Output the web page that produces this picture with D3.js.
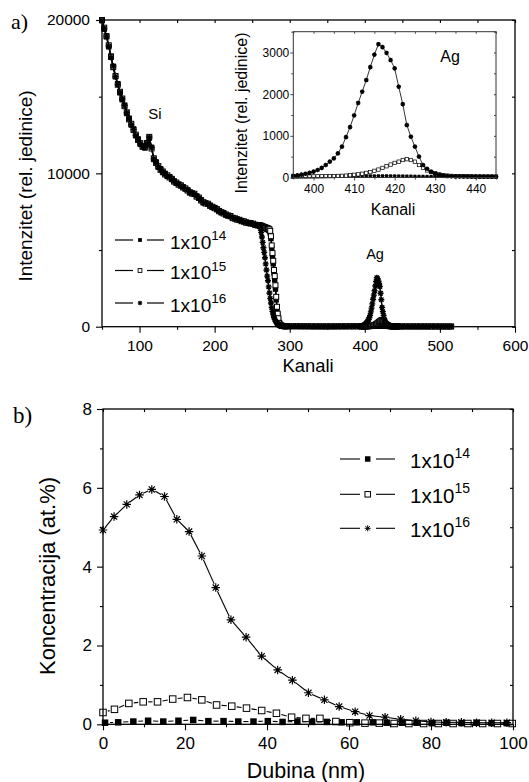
<!DOCTYPE html>
<html><head><meta charset="utf-8">
<script src="https://cdn.jsdelivr.net/npm/d3@7"></script>
<style>
body{margin:0;background:#fff}
svg{display:block}
text{fill:#000}
</style>
</head><body>
<svg id="c" width="529" height="782" font-family='"Liberation Sans", Arial, sans-serif'></svg>
<script>
// ---------- DATA: panel a) RBS spectra (channel, intensity) ----------
const chBulk = [50,53,56,59,62,65,68,71,74,77,80,83,86,89,92,95,98,101,104,107,110,113,116,119,122,125,128,131,134,137,140,143,146,149,152,155,158,161,164,167,170,173,176,179,182,185,188,191,194,197,200,203,206,209,212,215,218,221,224,227,230,233,236,239,242,245,248,251,254,257];
const chEdge = [260,261,262,263,264,265,266,267,268,269,270,271,272,273,274,275,276,277,278,279,280,281,282,283,284,285,286,287,288,289,290,291,292,293,294,295,296];
const chGap  = [300,305,310,315,320,325,330,335,340,345,350,355,360,365,370,375,380,385,390];
const chAg   = [395,396,397,398,399,400,401,402,403,404,405,406,407,408,409,410,411,412,413,414,415,416,417,418,419,420,421,422,423,424,425,426,427,428,429,430,431,432,433,434,435,436,437,438,439,440,441,442,443,444,445];
const chTail = [450,455,460,465,470,475,480,485,490,495,500,505,510,515];

const i14Bulk = [19950,19400,18900,18250,17650,16900,16300,15850,15250,14800,14450,13900,13600,13150,12900,12450,12250,11900,11800,11650,11900,12300,11700,10900,10750,10400,10300,10050,10000,9800,9780,9600,9500,9350,9300,9180,9120,8980,8920,8730,8720,8630,8520,8380,8270,8080,8070,7980,7920,7780,7770,7630,7570,7430,7420,7280,7270,7180,7120,7030,7020,6930,6920,6830,6820,6740,6770,6680,6670,6590];
const i15Bulk = [20000,19500,18950,18350,17600,16950,16350,15780,15320,14880,14380,13980,13520,13230,12830,12520,12180,11970,11730,11720,11980,12380,11620,10980,10680,10470,10230,10120,9930,9870,9730,9640,9460,9400,9260,9220,9080,9020,8880,8770,8680,8670,8480,8420,8230,8120,8030,8020,7880,7820,7730,7670,7530,7470,7380,7320,7230,7220,7080,7070,6980,6970,6880,6870,6780,6770,6730,6720,6640,6630];
const i16Bulk = [19980,19450,18950,18300,17550,17000,16300,15800,15280,14850,14420,13950,13560,13180,12850,12480,12200,11950,11760,11700,11950,12350,11680,10950,10720,10440,10260,10090,9960,9840,9760,9610,9490,9370,9290,9190,9110,8990,8910,8740,8710,8640,8510,8390,8260,8090,8060,7990,7910,7790,7760,7640,7560,7440,7410,7290,7260,7190,7110,7040,7010,6940,6910,6840,6810,6740,6760,6690,6660,6580];

const i14Edge = [6580,6560,6540,6520,6500,6480,6460,6430,6400,6380,6350,6330,6300,6250,6100,5750,5150,4600,4100,3500,3050,2450,1750,1150,750,450,220,130,90,65,50,45,40,35,32,30,30];
const i15Edge = [6620,6600,6580,6560,6540,6520,6500,6480,6460,6440,6420,6400,6380,6350,6250,5900,5300,4800,4300,3700,3300,2700,1950,1300,850,550,250,150,100,70,55,45,40,35,32,30,28];
const i16Edge = [6550,6400,6150,5850,5500,5150,4850,4500,4100,3700,3300,3000,2600,2200,1850,1550,1250,1000,800,620,480,380,300,220,160,120,90,70,55,45,40,35,32,30,30,28,28];

const i14Gap = [28,26,25,24,22,22,20,20,20,18,18,20,20,20,20,22,22,22,22];
const i15Gap = [28,27,26,24,23,22,21,20,20,19,19,20,20,20,21,22,22,22,24];
const i16Gap = [27,26,25,24,22,22,21,20,20,19,20,20,21,22,23,25,27,30,34];

const i14Ag = [20,20,22,22,25,25,25,28,28,30,30,30,32,32,35,35,35,38,38,40,40,40,42,42,40,40,38,38,35,35,32,30,30,28,28,25,25,22,22,22,20,20,20,20,18,18,18,18,18,18,18];
const i15Ag = [22,22,24,24,25,26,27,28,30,32,34,37,40,45,55,65,75,90,110,130,160,190,230,270,310,350,380,420,440,420,380,300,230,170,130,100,75,55,45,38,34,32,30,28,27,26,25,24,24,23,22];
const i16Ag = [40,50,70,90,110,140,180,230,300,380,460,580,740,970,1210,1490,1790,2060,2340,2650,2950,3200,3130,2990,2820,2620,2180,1760,1260,980,740,500,300,210,140,90,60,45,35,30,28,26,25,24,23,22,22,21,21,20,20];

const i14Tail = [18,18,17,17,16,16,16,15,15,15,15,14,14,14];
const i15Tail = [20,19,18,18,17,17,16,16,16,15,15,15,14,14];
const i16Tail = [19,18,18,17,17,16,16,16,15,15,15,14,14,14];

const seriesNames = ["14","15","16"];
const topXTicks = [100,200,300,400,500,600];
const topXMinor = [50,150,250,350,450,550];
const topYTicks = [0,10000,20000];
const topYMinor = [5000,15000];
const insetXTicks = [400,410,420,430,440];
const insetXMinor = [395,405,415,425,435,445];
const insetYTicks = [0,1000,2000,3000];
const insetYMinor = [500,1500,2500,3500];

// ---------- DATA: panel b) depth profiles ----------
const depth14 = [0.5,3.7,7.4,11.0,14.7,18.4,22.0,25.7,29.4,33.0,36.7,40.2,43.8,47.4,51.0,54.6,58.2,61.9,65.8,69.2,72.9,76.5,80.2,83.8,87.5,91.1,94.8,98.5];
const conc14  = [0.04,0.05,0.07,0.09,0.07,0.09,0.11,0.08,0.08,0.07,0.07,0.08,0.06,0.07,0.06,0.06,0.05,0.05,0.05,0.04,0.04,0.04,0.03,0.04,0.03,0.04,0.03,0.03];
const depth15 = [0,2.8,6.3,9.8,13.3,17.0,20.6,24.1,27.7,31.4,35.0,38.7,42.3,46.0,49.5,52.9,56.8,60.2,63.9,67.4,71.0,74.6,78.2,81.8,85.4,89.0,92.6,96.2,99.8];
const conc15  = [0.30,0.38,0.53,0.57,0.57,0.64,0.68,0.62,0.49,0.46,0.41,0.35,0.28,0.18,0.15,0.15,0.07,0.04,0.03,0.03,0.02,0.02,0.02,0.02,0.02,0.02,0.02,0.02,0.02];
const depth16 = [0,2.7,5.8,8.9,11.9,15.0,18.0,21.0,24.1,27.5,31.2,34.9,38.7,42.6,46.2,50.1,54.0,57.6,61.5,65.0,68.8,72.6,76.3,80.0,83.7,87.4,91.1,94.8,98.5];
const conc16  = [4.93,5.27,5.58,5.82,5.96,5.78,5.20,4.89,4.27,3.47,2.65,2.21,1.73,1.38,1.12,0.80,0.62,0.45,0.32,0.22,0.18,0.13,0.09,0.06,0.05,0.05,0.04,0.04,0.04];
const botXTicks = [0,20,40,60,80,100];
const botXMinor = [10,30,50,70,90];
const botYTicks = [0,2,4,6,8];
const botYMinor = [1,3,5,7];

// ---------- BUILD ----------
const SANS = '"Liberation Sans", Arial, sans-serif';
const SERIF = '"Liberation Serif", "Times New Roman", serif';
const svg = d3.select("#c");
const chAll = chBulk.concat(chEdge, chGap, chAg, chTail);
const zip = (xs, ys) => xs.map((v, i) => [v, ys[i]]).filter(d => d[1] !== undefined);
const spec = {
  "14": zip(chAll, i14Bulk.concat(i14Edge, i14Gap, i14Ag, i14Tail)),
  "15": zip(chAll, i15Bulk.concat(i15Edge, i15Gap, i15Ag, i15Tail)),
  "16": zip(chAll, i16Bulk.concat(i16Edge, i16Gap, i16Ag, i16Tail))
};
const markType = {"14": "fill", "15": "open", "16": "star"};

function marker(g, type, px, py, s, sw) {
  if (type === "fill") {
    g.append("rect").attr("x", px - s/2).attr("y", py - s/2).attr("width", s).attr("height", s).attr("fill", "#000");
  } else if (type === "open") {
    g.append("rect").attr("x", px - s/2).attr("y", py - s/2).attr("width", s).attr("height", s)
      .attr("fill", "#fff").attr("stroke", "#000").attr("stroke-width", sw);
  } else {
    const r = s/2, k = r*0.72;
    g.append("path").attr("d", `M${px},${py-r}V${py+r}M${px-r},${py}H${px+r}M${px-k},${py-k}L${px+k},${py+k}M${px-k},${py+k}L${px+k},${py-k}`)
      .attr("stroke", "#000").attr("stroke-width", sw).attr("fill", "none");
  }
}

function frame(g, x, y, o) {
  const [x0, x1] = x.range(), [y0, y1] = y.range();
  const style = sel => {
    sel.select(".domain").remove();
    sel.selectAll("line").attr("stroke", o.color).attr("stroke-width", o.tw);
    sel.attr("font-family", SANS).attr("font-size", o.fs);
  };
  g.append("g").attr("transform", `translate(0,${y0})`).call(d3.axisBottom(x).tickValues(o.xt).tickSize(o.maj).tickPadding(o.xpad).tickFormat(d3.format("d"))).call(style);
  g.append("g").attr("transform", `translate(0,${y0})`).call(d3.axisBottom(x).tickValues(o.xm).tickSize(o.min).tickFormat("")).call(style);
  g.append("g").attr("transform", `translate(${x0},0)`).call(d3.axisLeft(y).tickValues(o.yt).tickSize(o.maj).tickPadding(o.ypad).tickFormat(d3.format("d"))).call(style);
  g.append("g").attr("transform", `translate(${x0},0)`).call(d3.axisLeft(y).tickValues(o.ym).tickSize(o.min).tickFormat("")).call(style);
  g.append("g").attr("transform", `translate(0,${y1})`).call(d3.axisTop(x).tickValues(o.xt.concat(o.xm)).tickSize(-o.min).tickFormat("")).call(style);
  g.append("g").attr("transform", `translate(${x1},0)`).call(d3.axisRight(y).tickValues(o.yt.concat(o.ym)).tickSize(-o.min).tickFormat("")).call(style);
  g.append("rect").attr("x", x0).attr("y", y1).attr("width", x1 - x0).attr("height", y0 - y1)
    .attr("fill", "none").attr("stroke", o.color).attr("stroke-width", o.fw);
}

// ----- Panel a) -----
const xA = d3.scaleLinear([50, 600], [102, 515]);
const yA = d3.scaleLinear([0, 20000], [326.7, 20]);
const gA = svg.append("g");
const lineA = d3.line().x(d => xA(d[0])).y(d => yA(d[1]));
seriesNames.forEach(n => {
  const g = gA.append("g");
  g.append("path").attr("d", lineA(spec[n])).attr("fill", "none").attr("stroke", "#000").attr("stroke-width", 1.4);
  const s = n === "14" ? 5.4 : (n === "15" ? 5 : 6);
  spec[n].forEach(d => marker(g, markType[n], xA(d[0]), yA(d[1]), s, n === "16" ? 1.4 : 1));
});
frame(gA, xA, yA, {xt: topXTicks, xm: topXMinor, yt: topYTicks, ym: topYMinor, maj: 6, min: 3, xpad: 7, ypad: 6, fs: 15.5, color: "#000", tw: 1.1, fw: 1.3});

gA.append("text").attr("x", 308).attr("y", 372).attr("text-anchor", "middle").attr("font-size", 18.4).text("Kanali");
gA.append("text").attr("transform", "translate(32,186) rotate(-90)").attr("text-anchor", "middle").attr("font-size", 19).text("Intenzitet (rel. jedinice)");
gA.append("text").attr("x", 155).attr("y", 119).attr("text-anchor", "middle").attr("font-size", 15).text("Si");
gA.append("text").attr("x", 375).attr("y", 259).attr("text-anchor", "middle").attr("font-size", 14.5).text("Ag");
svg.append("text").attr("x", 11).attr("y", 29).attr("font-family", SERIF).attr("font-size", 22).text("a)");

// legend a)
const legA = [240, 270.5, 303];
seriesNames.forEach((n, i) => {
  const yy = legA[i];
  gA.append("line").attr("x1", 115).attr("x2", 133).attr("y1", yy).attr("y2", yy).attr("stroke", "#000").attr("stroke-width", 1.2);
  gA.append("line").attr("x1", 147).attr("x2", 164).attr("y1", yy).attr("y2", yy).attr("stroke", "#000").attr("stroke-width", 1.2);
  marker(gA, markType[n], 140, yy, n === "16" ? 4.5 : 3.8, n === "16" ? 1.1 : 0.9);
  const t = gA.append("text").attr("x", 170).attr("y", yy + 8.5).attr("font-size", 19);
  t.append("tspan").text("1x10");
  t.append("tspan").attr("dy", -8.5).attr("font-size", 13.5).text(n);
});

// ----- Inset -----
const xI = d3.scaleLinear([395, 445], [293.3, 496]);
const yI = d3.scaleLinear([0, 3500], [177.5, 31.7]);
const gI = svg.append("g");
gI.append("rect").attr("x", 293.3).attr("y", 31.7).attr("width", 496 - 293.3).attr("height", 177.5 - 31.7).attr("fill", "#fff");
gI.append("clipPath").attr("id", "ci").append("rect").attr("x", 290).attr("y", 28).attr("width", 210).attr("height", 153);
const gIc = gI.append("g").attr("clip-path", "url(#ci)");
const lineI = d3.line().x(d => xI(d[0])).y(d => yI(d[1]));
seriesNames.forEach(n => {
  const pts = spec[n].filter(d => d[0] >= 395 && d[0] <= 445);
  const g = gIc.append("g");
  g.append("path").attr("d", lineI(pts)).attr("fill", "none").attr("stroke", "#000").attr("stroke-width", 0.8);
  const s = n === "14" ? 3 : (n === "15" ? 3.4 : 4.6);
  pts.forEach(d => marker(g, markType[n], xI(d[0]), yI(d[1]), s, n === "16" ? 1.3 : 0.7));
});
frame(gI, xI, yI, {xt: insetXTicks, xm: insetXMinor, yt: insetYTicks, ym: insetYMinor, maj: 3, min: 2, xpad: 4, ypad: 1, fs: 12, color: "#333", tw: 0.9, fw: 1});
gI.append("text").attr("x", 393).attr("y", 215).attr("text-anchor", "middle").attr("font-size", 16).text("Kanali");
gI.append("text").attr("transform", "translate(247,113) rotate(-90)").attr("text-anchor", "middle").attr("font-size", 16).text("Intenzitet (rel. jedinice)");
gI.append("text").attr("x", 450).attr("y", 62).attr("text-anchor", "middle").attr("font-size", 16).text("Ag");

// ----- Panel b) -----
const xB = d3.scaleLinear([0, 100], [103, 513]);
const yB = d3.scaleLinear([0, 8], [724.3, 409]);
const gB = svg.append("g");
const prof = {"14": zip(depth14, conc14), "15": zip(depth15, conc15), "16": zip(depth16, conc16)};
function gapLine(g, pts, gap) {
  for (let i = 0; i < pts.length - 1; i++) {
    const ax = xB(pts[i][0]), ay = yB(pts[i][1]), bx = xB(pts[i+1][0]), by = yB(pts[i+1][1]);
    const dx = bx - ax, dy = by - ay, L = Math.hypot(dx, dy);
    if (L <= 2 * gap + 0.5) continue;
    const ux = dx / L, uy = dy / L;
    g.append("line").attr("x1", ax + ux * gap).attr("y1", ay + uy * gap).attr("x2", bx - ux * gap).attr("y2", by - uy * gap)
      .attr("stroke", "#000").attr("stroke-width", 1.1);
  }
}
seriesNames.forEach(n => {
  const g = gB.append("g");
  gapLine(g, prof[n], n === "16" ? 4 : 5);
  prof[n].forEach(d => marker(g, markType[n], xB(d[0]), yB(d[1]), n === "16" ? 8.5 : 6.5, n === "16" ? 1.2 : 1));
});
frame(gB, xB, yB, {xt: botXTicks, xm: botXMinor, yt: botYTicks, ym: botYMinor, maj: 6, min: 3, xpad: 7, ypad: 5, fs: 17, color: "#000", tw: 1.1, fw: 1.3});
gB.append("text").attr("x", 306).attr("y", 778).attr("text-anchor", "middle").attr("font-size", 21.5).text("Dubina (nm)");
gB.append("text").attr("transform", "translate(55,576) rotate(-90)").attr("text-anchor", "middle").attr("font-size", 22).text("Koncentracija (at.%)");
svg.append("text").attr("x", 13).attr("y", 423).attr("font-family", SERIF).attr("font-size", 23).text("b)");

// legend b)
const legB = [459, 494.3, 528.3];
seriesNames.forEach((n, i) => {
  const yy = legB[i];
  gB.append("line").attr("x1", 340).attr("x2", 360).attr("y1", yy).attr("y2", yy).attr("stroke", "#000").attr("stroke-width", 1.1);
  gB.append("line").attr("x1", 376).attr("x2", 395).attr("y1", yy).attr("y2", yy).attr("stroke", "#000").attr("stroke-width", 1.1);
  marker(gB, markType[n], 367.7, yy, n === "16" ? 6 : 5.5, 1);
  const t = gB.append("text").attr("x", 410).attr("y", yy + 8.5).attr("font-size", 20.5);
  t.append("tspan").text("1x10");
  t.append("tspan").attr("dy", -9.5).attr("font-size", 14).text(n);
});
</script>
</body></html>
